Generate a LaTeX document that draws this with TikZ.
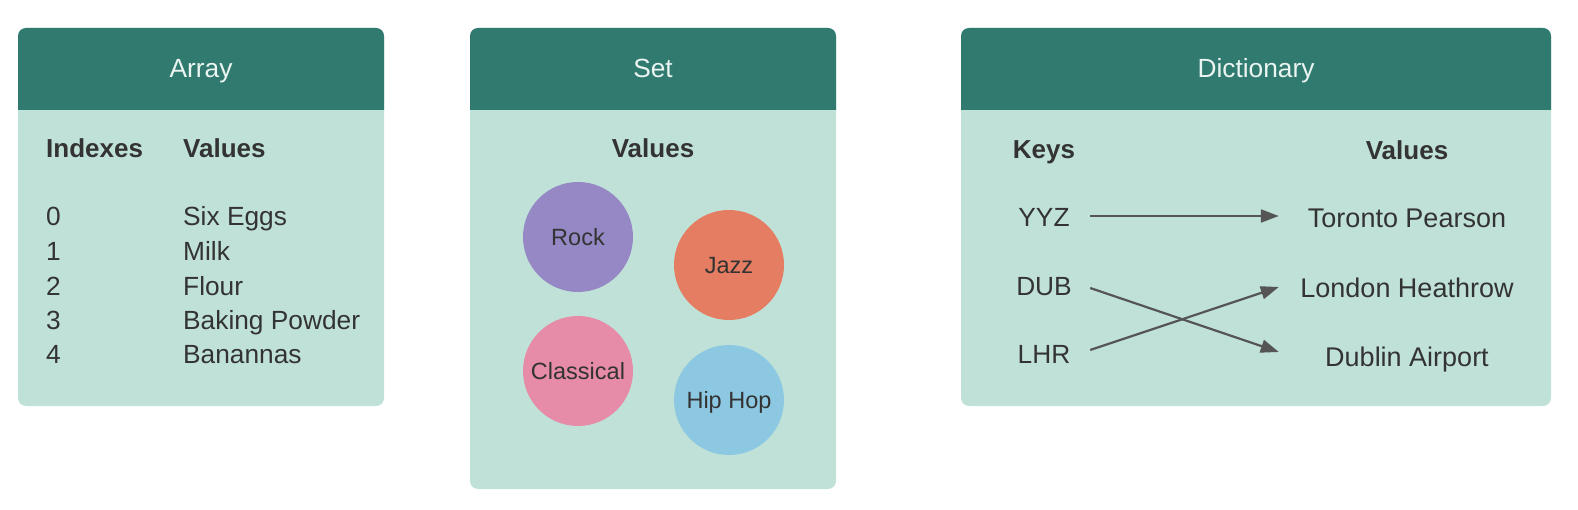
\documentclass[tikz,border=0pt]{standalone}
\usepackage{fontspec}
\setmainfont{Liberation Sans}
\usetikzlibrary{arrows.meta}
\definecolor{hdr}{HTML}{317A70}
\definecolor{bodyc}{HTML}{C0E1D8}
\definecolor{txt}{HTML}{333333}
\definecolor{hdrtxt}{HTML}{EAF4F1}
\definecolor{arrc}{HTML}{555555}
\definecolor{rockc}{HTML}{9588C4}
\definecolor{jazzc}{HTML}{E57D62}
\definecolor{classc}{HTML}{E68BA8}
\definecolor{hipc}{HTML}{8DC8E2}
\tikzset{
  lbl/.style={font=\fontsize{26.3}{31}\selectfont, text=txt, inner xsep=0pt, inner ysep=0pt, text height=19pt, text depth=0pt},
  hd/.style={lbl, font=\fontsize{26}{31}\selectfont\bfseries},
  ttl/.style={lbl, text=hdrtxt},
  bubble/.style={circle, minimum size=110pt, inner sep=0pt, font=\fontsize{23.5}{28}\selectfont, text=txt, text height=17pt, text depth=0pt},
  keyn/.style={lbl, minimum width=92pt},
  valn/.style={lbl, minimum width=256pt, font=\fontsize{27}{32}\selectfont},
  arr/.style={draw=arrc, line width=2.2pt, -{Triangle[length=18pt,width=13pt]}},
  panelbody/.style={fill=bodyc, rounded corners=8pt},
  panelhead/.style={fill=hdr}
}
\begin{document}
\begin{tikzpicture}[x=1pt,y=-1pt]
\useasboundingbox (0,0) rectangle (1578,510);
% panels
\foreach \a/\b/\c in {18/384/406, 470/836/489, 961/1551/406}{
  \fill[panelbody] (\a,28) rectangle (\b,\c);
  \fill[panelhead] (\a,110) [rounded corners=8pt] -- (\a,28) -- (\b,28) [sharp corners] -- (\b,110) -- cycle;
}
% Array
\node[ttl] (arrtitle) at (201,68) {Array};
\node[hd, anchor=west] (idxh) at (46,148) {Indexes};
\node[hd, anchor=west] (valh) at (183,148) {Values};
\node[lbl, anchor=west] (i0) at (46,216) {0};
\node[lbl, anchor=west] (i1) at (46,251) {1};
\node[lbl, anchor=west] (i2) at (46,286) {2};
\node[lbl, anchor=west] (i3) at (46,320) {3};
\node[lbl, anchor=west] (i4) at (46,354) {4};
\node[lbl, anchor=west] (v0) at (183,216) {Six Eggs};
\node[lbl, anchor=west] (v1) at (183,251) {Milk};
\node[lbl, anchor=west] (v2) at (183,286) {Flour};
\node[lbl, anchor=west] (v3) at (183,320) {Baking Powder};
\node[lbl, anchor=west] (v4) at (183,354) {Banannas};
% Set
\node[ttl] (settitle) at (653,68) {Set};
\node[hd] (setvals) at (653,148) {Values};
\node[bubble, fill=rockc] (rock) at (578,237) {Rock};
\node[bubble, fill=jazzc] (jazz) at (729,265) {Jazz};
\node[bubble, fill=classc] (classical) at (578,371) {Classical};
\node[bubble, fill=hipc] (hiphop) at (729,400) {Hip Hop};
% Dictionary
\node[ttl] (dicttitle) at (1256,68) {Dictionary};
\node[hd] (keysh) at (1044,149) {Keys};
\node[hd] (dvalsh) at (1407,150) {Values};
\node[keyn] (yyz) at (1044,217) {YYZ};
\node[keyn] (dub) at (1044,286) {DUB};
\node[keyn] (lhr) at (1044,354) {LHR};
\node[valn] (tor) at (1407,218) {Toronto Pearson};
\node[valn] (lon) at (1407,288) {London Heathrow};
\node[valn] (dubv) at (1407,357) {Dublin Airport};
\draw[arr] ([yshift=1pt]yyz.east) -- ([yshift=2pt]tor.west);
\draw[arr] ([yshift=-2pt]dub.east) -- ([yshift=5pt]dubv.west);
\draw[arr] ([yshift=4pt]lhr.east) -- ([yshift=1pt]lon.west);
\end{tikzpicture}
\end{document}
